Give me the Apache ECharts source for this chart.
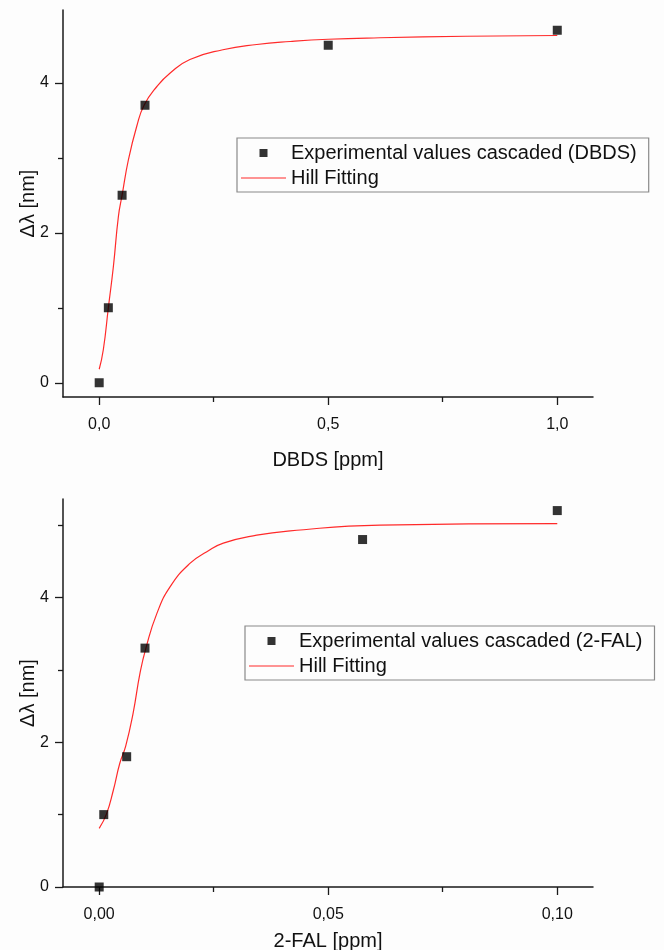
<!DOCTYPE html>
<html>
<head>
<meta charset="utf-8">
<script src="https://cdn.jsdelivr.net/npm/echarts@6/dist/echarts.min.js"></script>
<style>
  html, body { margin: 0; padding: 0; background: #fdfdfd; }
  #chart { width: 664px; height: 950px; }
</style>
</head>
<body>
<div id="chart"></div>
<script>
// 数据：上图 DBDS
var dbdsX = [0, 0.02, 0.05, 0.1, 0.5, 1.0];
var dbdsY = [0, 1.0, 2.5, 3.7, 4.5, 4.7];
var dbdsFitX = [0, 0.009, 0.02, 0.031, 0.042, 0.05, 0.064, 0.082, 0.098, 0.126, 0.155, 0.198, 0.27, 0.344, 0.417, 0.5, 0.613, 0.8, 1.0];
var dbdsFitY = [0.18, 0.44, 1.0, 1.55, 2.22, 2.5, 2.98, 3.42, 3.70, 3.95, 4.13, 4.31, 4.44, 4.51, 4.55, 4.58, 4.60, 4.62, 4.63];

// 数据：下图 2-FAL
var falX = [0, 0.001, 0.006, 0.01, 0.0575, 0.1];
var falY = [0, 1.0, 1.8, 3.3, 4.8, 5.2];
var falFitX = [0, 0.0016, 0.0031, 0.0045, 0.0058, 0.0074, 0.0089, 0.0102, 0.0126, 0.0155, 0.0198, 0.0235, 0.0271, 0.0344, 0.0417, 0.0613, 0.1];
var falFitY = [0.81, 1.01, 1.34, 1.71, 1.95, 2.40, 2.95, 3.30, 3.78, 4.15, 4.47, 4.63, 4.75, 4.86, 4.92, 5.00, 5.02];

// 刻度
var dbdsXMajor = [0, 0.5, 1.0];
var dbdsXMinor = [0.25, 0.75];
var dbdsYMajor = [0, 2, 4];
var dbdsYMinor = [1, 3];
var falXMajor = [0, 0.05, 0.1];
var falXMinor = [0.025, 0.075];
var falYMajor = [0, 2, 4];
var falYMinor = [1, 3, 5];

var nameDbds = 'Experimental values cascaded (DBDS)';
var nameFal = 'Experimental values cascaded (2-FAL)';
var nameFit = 'Hill Fitting';

function pairs(xs, ys) {
    var out = [];
    for (var i = 0; i < xs.length; i++) out.push([xs[i], ys[i]]);
    return out;
}

var FONT = 'Liberation Sans';
var AXIS_COLOR = '#1a1a1a';
var RED = '#ff2a2a';
var ICON_SQUARE = 'path://M0,0H10V10H0Z';
var ICON_LINE = 'path://M0,0H45V1.2H0Z';

function majorAxis(dim, grid, min, max, ticks, digits, name, gap) {
    var isX = dim === 'x';
    return {
        type: 'value',
        gridIndex: grid,
        position: isX ? 'bottom' : 'left',
        min: min,
        max: max,
        name: name,
        nameLocation: 'middle',
        nameGap: gap,
        nameMoveOverlap: false,
        nameTextStyle: { fontFamily: FONT, fontSize: 20, color: '#111' },
        axisLine: { show: true, onZero: false, lineStyle: { color: AXIS_COLOR, width: 1.5 } },
        axisTick: { show: true, length: 8, customValues: ticks, lineStyle: { color: AXIS_COLOR, width: 1.3 } },
        axisLabel: {
            show: true,
            customValues: ticks,
            margin: isX ? 20 : 14,
            fontFamily: FONT,
            fontSize: 16,
            color: '#111',
            formatter: function (v) {
                return digits === null ? String(v) : v.toFixed(digits).replace('.', ',');
            }
        },
        splitLine: { show: false }
    };
}

function minorAxis(dim, grid, min, max, ticks) {
    return {
        type: 'value',
        gridIndex: grid,
        position: dim === 'x' ? 'bottom' : 'left',
        min: min,
        max: max,
        axisLine: { show: false, onZero: false },
        axisTick: { show: true, length: 5, customValues: ticks, lineStyle: { color: AXIS_COLOR, width: 1.3 } },
        axisLabel: { show: false },
        splitLine: { show: false }
    };
}

function legendCfg(left, top, expName) {
    return {
        left: left,
        top: top,
        orient: 'vertical',
        data: [
            { name: expName, icon: ICON_SQUARE },
            { name: nameFit, icon: ICON_LINE }
        ],
        selectedMode: false,
        symbolKeepAspect: true,
        itemWidth: 45,
        itemHeight: 8,
        itemGap: 3,
        padding: [4, 12, 3, 4],
        borderColor: '#8a8a8a',
        borderWidth: 1.2,
        textStyle: { fontFamily: FONT, fontSize: 20, color: '#111', lineHeight: 22 }
    };
}

var chart = echarts.init(document.getElementById('chart'));

var option = {
    backgroundColor: '#fdfdfd',
    animation: false,
    grid: [
        { left: 63, top: 10, width: 530, height: 387, outerBoundsMode: 'none', containLabel: false },
        { left: 63, top: 499, width: 530, height: 388, outerBoundsMode: 'none', containLabel: false }
    ],
    xAxis: [
        majorAxis('x', 0, -0.079, 1.078, dbdsXMajor, 1, 'DBDS [ppm]', 53),
        minorAxis('x', 0, -0.079, 1.078, dbdsXMinor),
        majorAxis('x', 1, -0.0079, 0.1078, falXMajor, 2, '2-FAL [ppm]', 44),
        minorAxis('x', 1, -0.0079, 0.1078, falXMinor)
    ],
    yAxis: [
        majorAxis('y', 0, -0.19, 4.97, dbdsYMajor, null, 'Δλ [nm]', 25),
        minorAxis('y', 0, -0.19, 4.97, dbdsYMinor),
        majorAxis('y', 1, 0, 5.36, falYMajor, null, 'Δλ [nm]', 25),
        minorAxis('y', 1, 0, 5.36, falYMinor)
    ],
    legend: [
        legendCfg(237, 138, nameDbds),
        legendCfg(245, 626, nameFal)
    ],
    series: [
        {
            name: nameFit,
            type: 'line',
            xAxisIndex: 0,
            yAxisIndex: 0,
            data: pairs(dbdsFitX, dbdsFitY),
            symbol: 'none',
            smooth: 0.5,
            lineStyle: { color: RED, width: 1.2 },
            itemStyle: { color: RED },
            z: 2
        },
        {
            name: nameDbds,
            type: 'scatter',
            xAxisIndex: 0,
            yAxisIndex: 0,
            data: pairs(dbdsX, dbdsY),
            symbol: 'rect',
            symbolSize: 9,
            itemStyle: { color: '#000' },
            z: 3
        },
        {
            name: nameFit,
            type: 'line',
            xAxisIndex: 2,
            yAxisIndex: 2,
            data: pairs(falFitX, falFitY),
            symbol: 'none',
            smooth: 0.5,
            lineStyle: { color: RED, width: 1.2 },
            itemStyle: { color: RED },
            z: 2
        },
        {
            name: nameFal,
            type: 'scatter',
            xAxisIndex: 2,
            yAxisIndex: 2,
            data: pairs(falX, falY),
            symbol: 'rect',
            symbolSize: 9,
            itemStyle: { color: '#000' },
            z: 3
        }
    ]
};

chart.setOption(option);
</script>
</body>
</html>
